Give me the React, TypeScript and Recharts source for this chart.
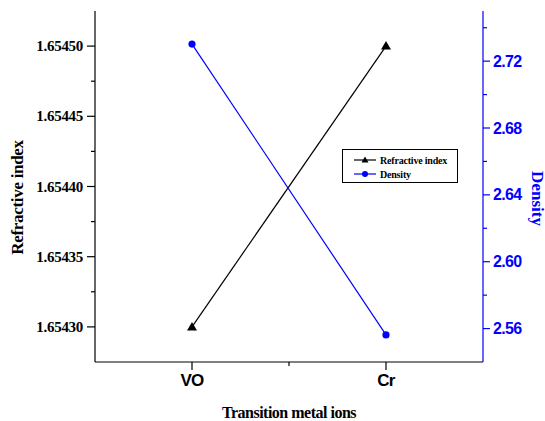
import { LineChart, Line, XAxis, YAxis, Label } from "recharts";

const ions = ["VO", "Cr"];
const refractiveIndex = [1.6543, 1.6545];
const density = [2.7302, 2.5562];

const riMajorTicks = [1.6543, 1.65435, 1.6544, 1.65445, 1.6545];
const riMinorTicks = [1.654325, 1.654375, 1.654425, 1.654475];
const densityMajorTicks = [2.56, 2.6, 2.64, 2.68, 2.72];
const densityMinorTicks = [2.58, 2.62, 2.66, 2.7, 2.74];
const xMajorTicks = [1, 2];
const xMinorTicks = [1.5];

const data = ions.map((name, i) => ({
  name,
  pos: i + 1,
  ri: refractiveIndex[i],
  density: density[i],
}));

const BLUE = "#0000ff";
const SERIF = "'Liberation Serif', 'Times New Roman', serif";
const SANS = "'Liberation Sans', Arial, sans-serif";

const LeftTick = (props: any) => {
  const { x, y, payload } = props;
  const axisX = x + 12;
  const major = riMajorTicks.includes(payload.value);
  return (
    <g>
      <line x1={axisX - (major ? 8 : 4)} x2={axisX} y1={y} y2={y} stroke="#000" strokeWidth={1.2} />
      {major && (
        <text
          x={x}
          y={y}
          textAnchor="end"
          dominantBaseline="central"
          fontFamily={SERIF}
          fontWeight="bold"
          fontSize={15}
          letterSpacing={-0.3}
          fill="#000"
        >
          {payload.value.toFixed(5)}
        </text>
      )}
    </g>
  );
};

const RightTick = (props: any) => {
  const { x, y, payload } = props;
  const axisX = x - 10;
  const major = densityMajorTicks.includes(payload.value);
  return (
    <g>
      <line x1={axisX} x2={axisX + (major ? 7 : 4)} y1={y} y2={y} stroke={BLUE} strokeWidth={1.2} />
      {major && (
        <text
          x={x}
          y={y}
          textAnchor="start"
          dominantBaseline="central"
          fontFamily={SANS}
          fontWeight="bold"
          fontSize={16}
          letterSpacing={-0.7}
          fill={BLUE}
        >
          {payload.value.toFixed(2)}
        </text>
      )}
    </g>
  );
};

const BottomTick = (props: any) => {
  const { x, y, payload } = props;
  const axisY = y - 12;
  const major = xMajorTicks.includes(payload.value);
  return (
    <g>
      <line x1={x} x2={x} y1={axisY} y2={axisY + (major ? 8 : 4)} stroke="#000" strokeWidth={1.2} />
      {major && (
        <text
          x={x}
          y={y}
          dy="0.72em"
          textAnchor="middle"
          fontFamily={SANS}
          fontWeight="bold"
          fontSize={17}
          letterSpacing={-0.8}
          fill="#000"
        >
          {ions[payload.value - 1]}
        </text>
      )}
    </g>
  );
};

const TopTick = (props: any) => {
  const { x, y, payload } = props;
  const axisY = y + 8;
  const major = xMajorTicks.includes(payload.value);
  return <line x1={x} x2={x} y1={axisY} y2={axisY - (major ? 8 : 4)} stroke="#000" strokeWidth={1.2} />;
};

const Triangle = (props: any) => {
  const { cx, cy, index } = props;
  if (cx == null || cy == null) return <g key={`t-${index}`} />;
  return (
    <path
      key={`t-${index}`}
      d={`M${cx},${cy - 5} L${cx + 5},${cy + 3.5} L${cx - 5},${cy + 3.5} Z`}
      fill="#000"
    />
  );
};

const Dot = (props: any) => {
  const { cx, cy, index } = props;
  if (cx == null || cy == null) return <g key={`d-${index}`} />;
  return <circle key={`d-${index}`} cx={cx} cy={cy} r={3.6} fill={BLUE} />;
};

const LegendBox = () => (
  <div
    style={{
      position: "absolute",
      left: 342,
      top: 149,
      width: 116,
      height: 34,
      boxSizing: "border-box",
      border: "1px solid #000",
      background: "#fff",
      fontFamily: SERIF,
      fontWeight: "bold",
      fontSize: 10,
      letterSpacing: -0.2,
    }}
  >
    {[
      { name: "Refractive index", color: "#000", marker: "tri" },
      { name: "Density", color: BLUE, marker: "dot" },
    ].map((item, i) => (
      <div
        key={item.name}
        style={{ position: "absolute", left: 10, top: 3 + i * 14, height: 14, display: "flex", alignItems: "center" }}
      >
        <svg width={24} height={14} style={{ display: "block" }}>
          <line x1={1} x2={23} y1={7} y2={7} stroke={item.color} strokeWidth={1.2} />
          {item.marker === "tri" ? (
            <path d="M12,3.5 L15.5,9.5 L8.5,9.5 Z" fill={item.color} />
          ) : (
            <circle cx={12} cy={7} r={3} fill={item.color} />
          )}
        </svg>
        <span style={{ marginLeft: 3, color: "#000", whiteSpace: "nowrap" }}>{item.name}</span>
      </div>
    ))}
  </div>
);

export default function App() {
  return (
    <div style={{ position: "absolute", left: 0, top: 0, width: 545, height: 421, background: "#fff" }}>
      <LineChart width={545} height={421} data={data} margin={{ top: 11, right: 0, bottom: 0, left: 0 }}>
        <XAxis
          xAxisId="top"
          orientation="top"
          dataKey="pos"
          type="number"
          domain={[0.5, 2.5]}
          ticks={[...xMajorTicks, ...xMinorTicks]}
          interval={0}
          height={0}
          tickSize={8}
          tickMargin={0}
          tickLine={false}
          tick={<TopTick />}
          axisLine={{ stroke: "#000", strokeWidth: 1.2 }}
        />
        <XAxis
          xAxisId="bottom"
          orientation="bottom"
          dataKey="pos"
          type="number"
          domain={[0.5, 2.5]}
          ticks={[...xMajorTicks, ...xMinorTicks]}
          interval={0}
          height={59}
          tickSize={8}
          tickMargin={4}
          tickLine={false}
          tick={<BottomTick />}
          axisLine={{ stroke: "#000", strokeWidth: 1.2 }}
        >
          <Label
            content={(p: any) => {
              const vb = p.viewBox ?? { x: 95, y: 362, width: 388, height: 59 };
              return (
                <text
                  x={vb.x + vb.width / 2}
                  y={vb.y + 56}
                  textAnchor="middle"
                  fontFamily={SERIF}
                  fontWeight="bold"
                  fontSize={16}
                  letterSpacing={-0.5}
                  fill="#000"
                >
                  Transition metal ions
                </text>
              );
            }}
          />
        </XAxis>
        <YAxis
          yAxisId="left"
          orientation="left"
          type="number"
          domain={[1.654275, 1.654525]}
          allowDataOverflow
          ticks={[...riMajorTicks, ...riMinorTicks]}
          interval={0}
          width={95}
          tickSize={8}
          tickMargin={4}
          tickLine={false}
          tick={<LeftTick />}
          axisLine={{ stroke: "#000", strokeWidth: 1.2 }}
        >
          <Label
            content={(p: any) => {
              const vb = p.viewBox ?? { x: 0, y: 11, width: 95, height: 351 };
              const cx = vb.x + 17;
              const cy = vb.y + vb.height / 2 + 11;
              return (
                <text
                  x={cx}
                  y={cy}
                  transform={`rotate(-90 ${cx} ${cy})`}
                  textAnchor="middle"
                  dominantBaseline="central"
                  fontFamily={SERIF}
                  fontWeight="bold"
                  fontSize={17}
                  letterSpacing={-0.3}
                  fill="#000"
                >
                  Refractive index
                </text>
              );
            }}
          />
        </YAxis>
        <YAxis
          yAxisId="right"
          orientation="right"
          type="number"
          domain={[2.54, 2.75]}
          allowDataOverflow
          ticks={[...densityMajorTicks, ...densityMinorTicks]}
          interval={0}
          width={62}
          tickSize={7}
          tickMargin={3}
          tickLine={false}
          tick={<RightTick />}
          axisLine={{ stroke: BLUE, strokeWidth: 1.2 }}
        >
          <Label
            content={(p: any) => {
              const vb = p.viewBox ?? { x: 483, y: 11, width: 62, height: 351 };
              const cx = vb.x + 54;
              const cy = vb.y + vb.height / 2 + 12;
              return (
                <text
                  x={cx}
                  y={cy}
                  transform={`rotate(90 ${cx} ${cy})`}
                  textAnchor="middle"
                  dominantBaseline="central"
                  fontFamily={SERIF}
                  fontWeight="bold"
                  fontSize={17}
                  fill={BLUE}
                >
                  Density
                </text>
              );
            }}
          />
        </YAxis>
        <Line
          xAxisId="bottom"
          yAxisId="left"
          dataKey="ri"
          stroke="#000"
          strokeWidth={1.2}
          dot={<Triangle />}
          activeDot={false}
          isAnimationActive={false}
        />
        <Line
          xAxisId="top"
          yAxisId="right"
          dataKey="density"
          stroke={BLUE}
          strokeWidth={1.2}
          dot={<Dot />}
          activeDot={false}
          isAnimationActive={false}
        />
      </LineChart>
      <LegendBox />
    </div>
  );
}
